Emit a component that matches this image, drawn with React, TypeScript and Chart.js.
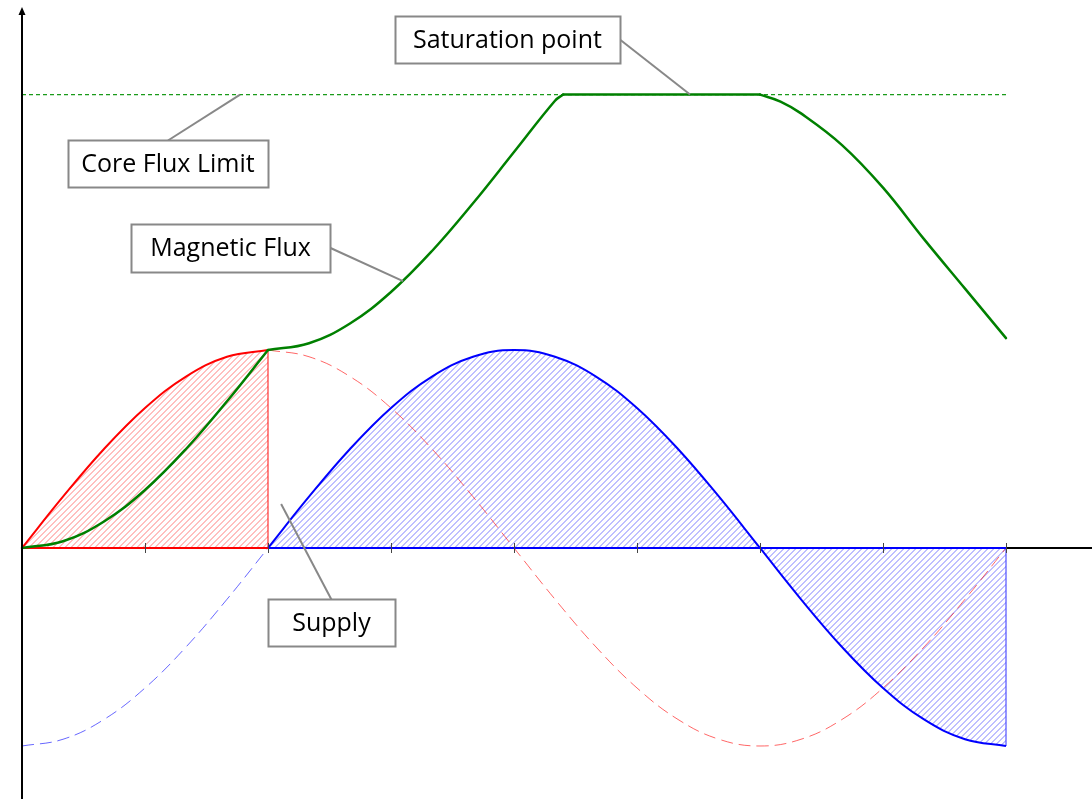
import React, { useEffect, useRef } from 'react';
import { Chart, registerables } from 'chart.js';

Chart.register(...registerables);

// ---- data (degrees of supply cycle, values in units of supply peak) ----
const angles = [0, 15, 30, 45, 60, 75, 90, 105, 120, 135, 150, 165, 180, 195, 210, 225, 240, 255, 270, 285, 300, 315, 330, 345, 360];
const supplySine = [0, 0.259, 0.5, 0.707, 0.866, 0.966, 1, 0.966, 0.866, 0.707, 0.5, 0.259, 0, -0.259, -0.5, -0.707, -0.866, -0.966, -1, -0.966, -0.866, -0.707, -0.5, -0.259, 0];
const supplyCosine = [-1, -0.966, -0.866, -0.707, -0.5, -0.259, 0, 0.259, 0.5, 0.707, 0.866, 0.966, 1, 0.966, 0.866, 0.707, 0.5, 0.259, 0, -0.259, -0.5, -0.707, -0.866, -0.966, -1];
const fluxAngles = [0, 15, 30, 45, 60, 75, 90, 105, 120, 135, 150, 165, 180, 195, 198, 270, 277.5, 285, 300, 315, 330, 345, 360];
const fluxValues = [0, 0.034, 0.134, 0.293, 0.5, 0.741, 1, 1.034, 1.134, 1.293, 1.5, 1.741, 2, 2.259, 2.29, 2.29, 2.255, 2.195, 2.035, 1.82, 1.56, 1.31, 1.06];
const fluxLimit = 2.29;
const switchAngle = 90;
const saturationStart = 198;
const saturationEnd = 270;
const endAngle = 360;
const tickAngles = [45, 90, 135, 180, 225, 270, 315, 360];

// annotation labels: box centre and leader target in data units
const labels = [
  { text: 'Core Flux Limit', cx: 53.4, cy: 1.942, w: 200, h: 47, anchor: 'top', tx: 79.8, ty: 2.29 },
  { text: 'Saturation point', cx: 177.6, cy: 2.566, w: 225, h: 47, anchor: 'right', tx: 244.4, ty: 2.29 },
  { text: 'Magnetic Flux', cx: 76.3, cy: 1.515, w: 199, h: 48, anchor: 'right', tx: 139.4, ty: 1.348 },
  { text: 'Supply', cx: 113.2, cy: -0.376, w: 127, h: 47, anchor: 'top', tx: 94.8, ty: 0.222 },
];

function pts(xs: number[], ys: number[], from: number, to: number) {
  const out: { x: number; y: number }[] = [];
  xs.forEach((x, i) => {
    if (x >= from && x <= to) out.push({ x, y: ys[i] });
  });
  return out;
}

const overlay = {
  id: 'overlay',
  beforeDatasetsDraw(chart: any) {
    const { ctx, scales, chartArea } = chart;
    const x0 = scales.x.getPixelForValue(0);
    const y0 = scales.y.getPixelForValue(0);
    ctx.save();
    ctx.strokeStyle = '#000';
    ctx.lineWidth = 2;
    ctx.beginPath();
    ctx.moveTo(x0, y0);
    ctx.lineTo(chartArea.right, y0);
    ctx.stroke();
    ctx.restore();

    // hatched areas between curve and zero line
    chart.data.datasets.forEach((ds: any, i: number) => {
      if (!ds.hatch) return;
      const meta = chart.getDatasetMeta(i);
      const line = meta.dataset;
      const p = meta.data;
      if (!line || !p.length) return;
      ctx.save();
      ctx.beginPath();
      line.path(ctx);
      ctx.lineTo(p[p.length - 1].x, y0);
      ctx.lineTo(p[0].x, y0);
      ctx.closePath();
      ctx.clip();
      ctx.strokeStyle = ds.hatch;
      ctx.lineWidth = 1;
      const H = chartArea.bottom - chartArea.top;
      ctx.beginPath();
      for (let k = chartArea.left - H; k < chartArea.right; k += 6) {
        ctx.moveTo(k + 0.5, chartArea.bottom);
        ctx.lineTo(k + 0.5 + H, chartArea.top);
      }
      ctx.stroke();
      ctx.restore();
    });
  },
  afterDatasetsDraw(chart: any) {
    const { ctx, scales, chartArea } = chart;
    const xs = scales.x;
    const ys = scales.y;
    const x0 = xs.getPixelForValue(0);
    const y0 = ys.getPixelForValue(0);
    ctx.save();
    // ticks
    ctx.strokeStyle = '#444';
    ctx.lineWidth = 1;
    tickAngles.forEach((a) => {
      const px = Math.round(xs.getPixelForValue(a)) + 0.5;
      ctx.beginPath();
      ctx.moveTo(px, y0 - 5);
      ctx.lineTo(px, y0 + 5);
      ctx.stroke();
    });
    // y axis
    ctx.strokeStyle = '#000';
    ctx.lineWidth = 2;
    ctx.beginPath();
    ctx.moveTo(x0, chartArea.bottom);
    ctx.lineTo(x0, 12);
    ctx.stroke();
    ctx.fillStyle = '#000';
    ctx.beginPath();
    ctx.moveTo(x0, 7);
    ctx.lineTo(x0 - 3.5, 15);
    ctx.lineTo(x0 + 3.5, 15);
    ctx.closePath();
    ctx.fill();
    // labels
    ctx.font = '25px "Open Sans"';
    ctx.textAlign = 'center';
    ctx.textBaseline = 'middle';
    labels.forEach((l) => {
      const cx = xs.getPixelForValue(l.cx);
      const cy = ys.getPixelForValue(l.cy);
      const left = Math.round(cx - l.w / 2) + 0.5;
      const top = Math.round(cy - l.h / 2) + 0.5;
      let sx = cx;
      let sy = top;
      if (l.anchor === 'right') {
        sx = left + l.w;
        sy = cy;
      }
      ctx.strokeStyle = '#888';
      ctx.lineWidth = 2;
      ctx.beginPath();
      ctx.moveTo(sx, sy);
      ctx.lineTo(xs.getPixelForValue(l.tx), ys.getPixelForValue(l.ty));
      ctx.stroke();
      ctx.fillStyle = '#fff';
      ctx.fillRect(left, top, l.w, l.h);
      ctx.strokeRect(left, top, l.w, l.h);
      ctx.fillStyle = '#000';
      ctx.fillText(l.text, cx, cy + 1);
    });
    ctx.restore();
  },
};

export default function App() {
  const ref = useRef<HTMLCanvasElement>(null);

  useEffect(() => {
    const canvas = ref.current!;
    const iSwitch = angles.indexOf(switchAngle);
    const straight = { tension: 0, cubicInterpolationMode: 'default' as const, pointRadius: 0, fill: false };
    const curve = { tension: 0.4, cubicInterpolationMode: 'default' as const, pointRadius: 0, fill: false };
    const green = { borderColor: '#008000', borderWidth: 2.5, borderCapStyle: 'round' as const, ...curve };

    const chart = new Chart(canvas, {
      type: 'line',
      data: {
        datasets: [
          { label: 'Magnetic Flux', data: pts(fluxAngles, fluxValues, 0, switchAngle), ...green },
          { label: 'Magnetic Flux rising', data: pts(fluxAngles, fluxValues, switchAngle, saturationStart), ...green },
          { label: 'Magnetic Flux saturated', data: pts(fluxAngles, fluxValues, saturationStart, saturationEnd), ...green },
          { label: 'Magnetic Flux falling', data: pts(fluxAngles, fluxValues, saturationEnd, endAngle), ...green },
          {
            label: 'Core Flux Limit',
            data: [
              { x: 0, y: fluxLimit },
              { x: endAngle, y: fluxLimit },
            ],
            borderColor: '#1a9a1a',
            borderWidth: 1.3,
            borderDash: [4, 3],
            ...straight,
          },
          {
            label: 'Supply (first quarter)',
            data: pts(angles, supplySine, 0, switchAngle),
            borderColor: '#ff0000',
            borderWidth: 2,
            hatch: 'rgba(255,0,0,0.5)',
            ...curve,
          } as any,
          {
            label: 'Supply (after switch)',
            data: pts(angles, supplyCosine, switchAngle, endAngle),
            borderColor: '#0000ff',
            borderWidth: 2,
            hatch: 'rgba(0,0,255,0.5)',
            ...curve,
          } as any,
          {
            label: 'red base',
            data: [
              { x: 0, y: 0 },
              { x: switchAngle, y: 0 },
            ],
            borderColor: '#ff0000',
            borderWidth: 2,
            ...straight,
          },
          {
            label: 'blue base',
            data: [
              { x: switchAngle, y: 0 },
              { x: endAngle, y: 0 },
            ],
            borderColor: '#0000ff',
            borderWidth: 2,
            ...straight,
          },
          {
            label: 'red edge',
            data: [
              { x: switchAngle, y: 0 },
              { x: switchAngle, y: supplySine[iSwitch] },
            ],
            borderColor: 'rgba(255,0,0,0.8)',
            borderWidth: 1.2,
            ...straight,
          },
          {
            label: 'blue edge',
            data: [
              { x: endAngle, y: 0 },
              { x: endAngle, y: supplyCosine[supplyCosine.length - 1] },
            ],
            borderColor: 'rgba(60,60,255,0.7)',
            borderWidth: 1.5,
            ...straight,
          },
          {
            label: 'sine continuation',
            data: pts(angles, supplySine, switchAngle, endAngle),
            borderColor: 'rgba(255,0,0,0.6)',
            borderWidth: 1,
            borderDash: [12, 6],
            ...curve,
          },
          {
            label: 'cosine before switch',
            data: pts(angles, supplyCosine, 0, switchAngle),
            borderColor: 'rgba(0,0,255,0.6)',
            borderWidth: 1,
            borderDash: [12, 6],
            ...curve,
          },
        ],
      },
      options: {
        responsive: false,
        animation: false,
        devicePixelRatio: 1,
        layout: { padding: 0 },
        plugins: {
          legend: { display: false },
          tooltip: { enabled: false },
        },
        events: [],
        scales: {
          x: { type: 'linear', min: -8.05, max: 391.46, display: false },
          y: { type: 'linear', min: -1.2677, max: 2.7677, display: false },
        },
      },
      plugins: [overlay],
    });
    return () => chart.destroy();
  }, []);

  return (
    <div style={{ position: 'fixed', left: 0, top: 0, width: 1092, height: 799, background: '#fff' }}>
      <canvas ref={ref} width={1092} height={799} style={{ display: 'block' }} />
    </div>
  );
}
